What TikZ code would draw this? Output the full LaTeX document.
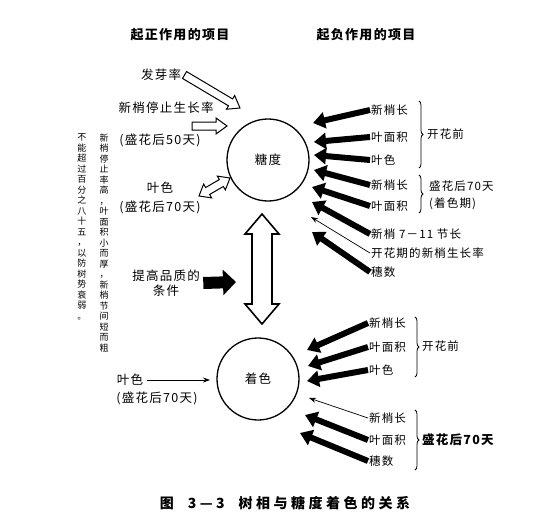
\documentclass[tikz,border=0pt]{standalone}
\usepackage{fontspec}
\newfontfamily\cjk[LetterSpace=10]{Noto Sans CJK SC}
\newfontfamily\cjkcap[LetterSpace=25]{Noto Sans CJK SC}
\usetikzlibrary{arrows.meta,calc,decorations.pathreplacing}

% hollow arrow: [style]{tail}{head}{half shaft}{half head}{head length}
\newcommand{\hollowarrow}[6][]{%
  \coordinate (hb) at ($(#3)!#6!(#2)$);
  \draw[hollow,#1] ($(#2)!#4!90:(#3)$) -- ($(hb)!#4!90:(#3)$) -- ($(hb)!#5!90:(#3)$) -- (#3)
    -- ($(hb)!#5!-90:(#3)$) -- ($(hb)!#4!-90:(#3)$) -- ($(#2)!#4!-90:(#3)$) -- cycle;}
\newcommand{\hollowdouble}[6][]{%
  \coordinate (hb) at ($(#3)!#6!(#2)$);
  \coordinate (ht) at ($(#2)!#6!(#3)$);
  \draw[hollow,#1] (#2) -- ($(ht)!#5!90:(#3)$) -- ($(ht)!#4!90:(#3)$) -- ($(hb)!#4!90:(#3)$)
    -- ($(hb)!#5!90:(#3)$) -- (#3) -- ($(hb)!#5!-90:(#3)$) -- ($(hb)!#4!-90:(#3)$)
    -- ($(ht)!#4!-90:(#3)$) -- ($(ht)!#5!-90:(#3)$) -- cycle;}

\begin{document}
\begin{tikzpicture}[x=1pt,y=-1pt,
  font=\cjk\fontsize{12.5}{15}\selectfont,
  hollow/.style={draw,fill=white,line width=1pt,line join=miter},
  blk/.style={line width=6pt,-{Triangle[length=12pt,width=16pt]}},
  thn/.style={line width=0.7pt,-{Stealth[length=7pt,width=5pt]}},
  rlbl/.style={anchor=west,inner sep=1pt,font=\cjk\fontsize{11.5}{14}\selectfont},
  brc/.style={decorate,decoration={brace,amplitude=4pt},line width=0.8pt},
  vtext/.style={align=center,inner sep=0pt,font=\cjk\fontsize{9}{10.5}\selectfont},
  ball/.style={circle,draw,line width=1.3pt,minimum size=82pt,inner sep=0pt}]
\useasboundingbox (0,0) rectangle (558,522);

% headings
\node[font=\cjk\bfseries\fontsize{13}{15}\selectfont] (hpos) at (180,35) {起正作用的项目};
\node[font=\cjk\bfseries\fontsize{13}{15}\selectfont] (hneg) at (366,35) {起负作用的项目};

% the two circles
\node[ball] (tang) at (268,160) {糖度};
\node[ball] (zhuo) at (258,379) {着色};
\coordinate (dt) at (262,214);
\coordinate (db) at (262,324);
\hollowdouble[line width=1.6pt]{dt}{db}{10pt}{17pt}{20pt}

% left side
\node (fy) at (161,75) {发芽率};
\node (ts) at (166,108) {新梢停止生长率};
\node (ts50) at (160,140) {(盛花后50天)};
\node (ys) at (160,188) {叶色};
\node (ys70) at (160,207) {(盛花后70天)};
\coordinate (fyh) at (240,108);
\coordinate (tst) at (192,126);
\coordinate (tsh) at (227,126);
\coordinate (ysa) at (199,196);
\coordinate (ysb) at (230,178);
\hollowarrow{fy.east}{fyh}{4pt}{8pt}{11pt}
\hollowarrow{tst}{tsh}{4pt}{8pt}{11pt}
\hollowdouble{ysa}{ysb}{4pt}{8pt}{10pt}

\node[vtext] (vl) at (82,227) {不\\能\\超\\过\\百\\分\\之\\八\\十\\五\\，\\以\\防\\树\\势\\衰\\弱\\。};
\node[vtext] (vr) at (104,243) {新\\梢\\停\\止\\率\\高\\，\\叶\\面\\积\\小\\而\\厚\\，\\新\\梢\\节\\间\\短\\而\\粗};

\node[align=center] (tg) at (166,283) {提高品质的\\条件};
\coordinate (tgh) at (236,282);
\draw[line width=12pt,-{Triangle[length=13pt,width=25pt]}] (tg.east) -- (tgh);

\node (yl) at (130,380) {叶色};
\node (yl70) at (157,398) {(盛花后70天)};
\coordinate (ylh) at (210,380);
\draw[thn] (yl.east) -- (ylh);

% right side, upper group
\node[rlbl] (r1) at (370,110) {新梢长};
\node[rlbl] (r2) at (370,137) {叶面积};
\node[rlbl] (r3) at (370,160) {叶色};
\draw[brc] (419,101) -- (419,168);
\node[rlbl] (k1) at (426,134) {开花前};
\node[rlbl] (r4) at (370,185) {新梢长};
\node[rlbl] (r5) at (370,206) {叶面积};
\draw[brc] (419,175) -- (419,213);
\node[rlbl] (k2) at (428,186) {盛花后70天};
\node[rlbl] (k3) at (428,204) {(着色期)};
\node[rlbl] (r6) at (370,234) {新梢 7－11 节长};
\node[rlbl] (r7) at (370,253) {开花期的新梢生长率};
\node[rlbl] (r8) at (370,272) {穗数};

\coordinate (t1) at (313,123);
\coordinate (t2) at (314,142);
\coordinate (t3) at (314,155);
\coordinate (t4) at (314,170);
\coordinate (t5) at (312,187);
\coordinate (t6) at (312,202);
\coordinate (t7) at (311,217);
\coordinate (t8) at (312,232);
\draw[blk] (r1.west) -- (t1);
\draw[blk] (r2.west) -- (t2);
\draw[blk] (r3.west) -- (t3);
\draw[blk] (r4.west) -- (t4);
\draw[blk] (r5.west) -- (t5);
\draw[blk] (r6.west) -- (t6);
\draw[thn] (r7.west) -- (t7);
\draw[blk] (r8.west) -- (t8);

% right side, lower group
\node[rlbl] (s1) at (368,323) {新梢长};
\node[rlbl] (s2) at (368,347) {叶面积};
\node[rlbl] (s3) at (368,370) {叶色};
\draw[brc] (415,317) -- (415,377);
\node[rlbl] (k4) at (421,346) {开花前};
\node[rlbl] (s4) at (368,418) {新梢长};
\node[rlbl] (s5) at (368,440) {叶面积};
\node[rlbl] (s6) at (368,461) {穗数};
\draw[brc] (415,410) -- (415,470);
\node[rlbl,font=\cjk\bfseries\fontsize{12.5}{15}\selectfont] (k5) at (421,440) {盛花后70天};

\coordinate (u1) at (307,350);
\coordinate (u2) at (308,366);
\coordinate (u3) at (307,381);
\coordinate (u4) at (309,398);
\coordinate (u5) at (305,415);
\coordinate (u6) at (300,433);
\draw[blk] (s1.west) -- (u1);
\draw[blk] (s2.west) -- (u2);
\draw[blk] (s3.west) -- (u3);
\draw[thn] (s4.west) -- (u4);
\draw[blk] (s5.west) -- (u5);
\draw[blk] (s6.west) -- (u6);

% caption
\node[font=\cjkcap\bfseries\fontsize{14}{16}\selectfont] (cap) at (285,503) {图\quad 3—3\quad 树相与糖度着色的关系};
\end{tikzpicture}
\end{document}
